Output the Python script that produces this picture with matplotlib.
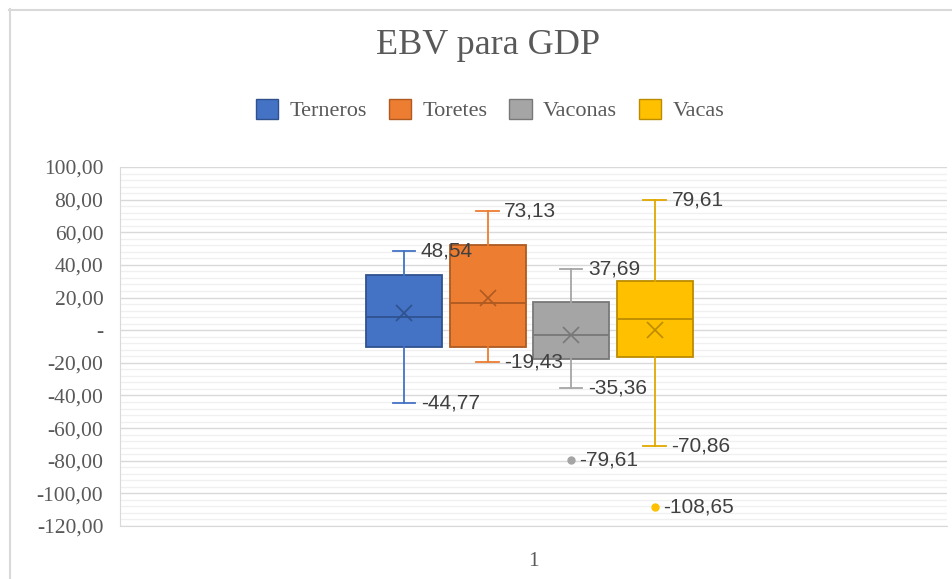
import matplotlib
matplotlib.use("Agg")
import matplotlib.pyplot as plt
from matplotlib.patches import Patch
from matplotlib.lines import Line2D
from matplotlib.ticker import MultipleLocator, FuncFormatter

categories = ["Terneros", "Toretes", "Vaconas", "Vacas"]
q1 = [-10.5, -10.5, -17.8, -16.6]
median = [8.3, 16.5, -2.9, 6.7]
q3 = [33.8, 52.0, 17.5, 30.1]
mean = [10.3, 19.5, -3.0, 0.1]
whisk_hi = [48.54, 73.13, 37.69, 79.61]
whisk_lo = [-44.77, -19.43, -35.36, -70.86]
outliers = [[], [], [-79.61], [-108.65]]
x_label = "1"

fills = ["#4472C4", "#ED7D31", "#A5A5A5", "#FFC000"]
edges = ["#2F528F", "#AE5A21", "#787878", "#BC8C00"]
whisk_colors = ["#4472C4", "#ED7D31", "#A5A5A5", "#E0A800"]
serif = ["Liberation Serif", "DejaVu Serif"]
sans = ["Liberation Sans", "DejaVu Sans"]
gray = "#595959"

W, H = 952, 579
fig = plt.figure(figsize=(W / 100, H / 100), dpi=100)
fig.lines.append(Line2D([9 / W, 1], [1 - 9.5 / H] * 2, transform=fig.transFigure, color="#D9D9D9", lw=1.5))
fig.lines.append(Line2D([9.5 / W] * 2, [0, 1 - 9 / H], transform=fig.transFigure, color="#D9D9D9", lw=1.5))
ax = fig.add_axes([120 / W, 53 / H, 827 / W, 359 / H])

n = len(categories)
spacing = 0.101
width = 0.092
positions = [1 - 0.005 + (i - (n - 1) / 2) * spacing for i in range(n)]

for i in range(n):
    st = dict(q1=q1[i], med=median[i], q3=q3[i], mean=mean[i],
              whislo=whisk_lo[i], whishi=whisk_hi[i], fliers=outliers[i])
    ax.bxp([st], positions=[positions[i]], widths=width, showmeans=True,
           patch_artist=True, capwidths=[0.027],
           boxprops=dict(facecolor=fills[i], edgecolor=edges[i], lw=1.3),
           medianprops=dict(color=edges[i], lw=1.3),
           whiskerprops=dict(color=whisk_colors[i], lw=1.3),
           capprops=dict(color=whisk_colors[i], lw=1.3),
           meanprops=dict(marker="x", markeredgecolor=edges[i], markersize=11, markeredgewidth=1.2),
           flierprops=dict(marker="o", markerfacecolor=fills[i], markeredgecolor=fills[i], markersize=5),
           zorder=3)
    for v in (whisk_hi[i], whisk_lo[i]):
        ax.annotate(f"{v:.2f}".replace(".", ","), (positions[i] + 0.0135, v),
                    xytext=(4, 0), textcoords="offset points", va="center", ha="left",
                    fontsize=15, color="#404040", family=sans, zorder=5)
    for v in outliers[i]:
        ax.annotate(f"{v:.2f}".replace(".", ","), (positions[i], v),
                    xytext=(6, 0), textcoords="offset points", va="center", ha="left",
                    fontsize=15, color="#404040", family=sans, zorder=5)

ax.set_xlim(0.5, 1.5)
ax.set_ylim(-120, 100)
ax.yaxis.set_major_locator(MultipleLocator(20))
ax.yaxis.set_minor_locator(MultipleLocator(4))
ax.yaxis.set_major_formatter(FuncFormatter(lambda v, p: "-" if abs(v) < 1e-9 else f"{v:.2f}".replace(".", ",")))
ax.grid(which="major", axis="y", color="#D9D9D9", lw=1.0, zorder=0)
ax.grid(which="minor", axis="y", color="#F0F0F0", lw=1.0, zorder=0)
ax.set_xticks([1])
ax.set_xticklabels([x_label])
ax.tick_params(axis="both", which="both", length=0, colors=gray, labelsize=15.5)
ax.tick_params(axis="y", pad=12)
ax.tick_params(axis="x", pad=19)
for lab in ax.get_xticklabels() + ax.get_yticklabels():
    lab.set_family(serif)
ax.spines["right"].set_visible(False)
ax.spines["top"].set_visible(False)
for s in ("left", "bottom"):
    ax.spines[s].set_color("#D9D9D9")
ax.set_axisbelow(True)

fig.text(488 / W, 1 - 45 / H, "EBV para GDP", ha="center", va="center",
         fontsize=26, color=gray, family=serif)
handles = [Patch(facecolor=fills[i], edgecolor=edges[i], label=categories[i]) for i in range(n)]
fig.legend(handles=handles, loc="center", bbox_to_anchor=(490 / W, 1 - 110 / H), ncol=4,
           frameon=False, prop=dict(family=serif, size=16), labelcolor=gray,
           handlelength=1.0, handleheight=1.0, handletextpad=0.5, columnspacing=1.0)

fig.savefig("out.png", dpi=100)
